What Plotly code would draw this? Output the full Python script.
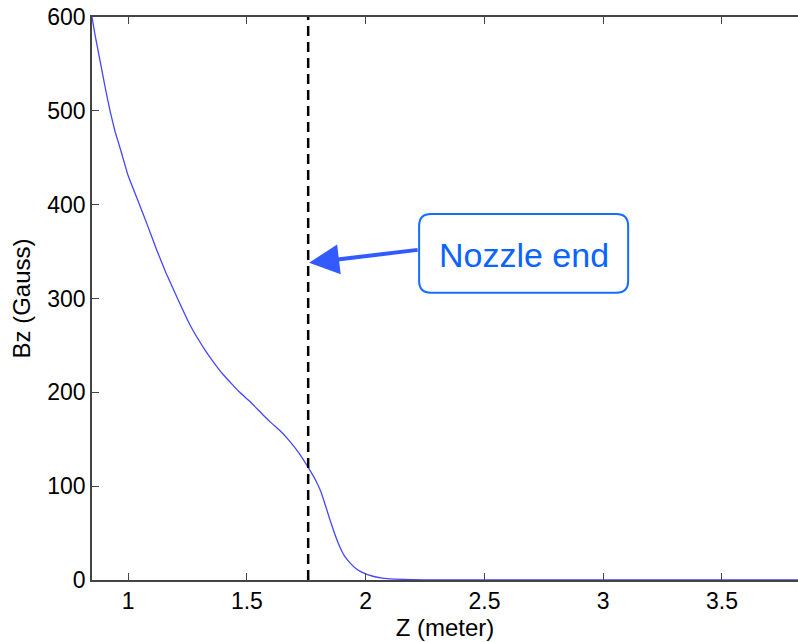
import plotly.graph_objects as go

# Data
z_m = [0.848, 0.86, 0.873, 0.886, 0.905, 0.924, 0.945, 0.969, 1.0, 1.048, 1.08, 1.12, 1.16,
       1.208, 1.26, 1.324, 1.36, 1.40, 1.44, 1.47, 1.514,
       1.56, 1.60, 1.64, 1.68, 1.72, 1.758, 1.79, 1.81, 1.83, 1.85, 1.87, 1.89,
       1.91, 1.935, 1.96, 1.99, 2.03, 2.07, 2.12, 2.2, 2.3, 2.6, 3.0, 3.5, 3.9]
bz_gauss = [600, 582, 565, 548, 523, 500, 478, 458, 431, 400, 379, 352, 327,
            300, 272, 245, 232, 219, 208, 200, 190,
            178, 168, 159, 148, 135, 120, 106, 95, 80, 64, 49, 36,
            26, 18, 12, 7.5, 4, 2, 1, 0.4, 0.1, 0, 0, 0, 0]
nozzle_end_z = 1.758
x_ticks = [1, 1.5, 2, 2.5, 3, 3.5]
y_ticks = [0, 100, 200, 300, 400, 500, 600]
annotation_text = "Nozzle end"

fig = go.Figure()
fig.add_trace(go.Scatter(x=z_m, y=bz_gauss, mode="lines",
                         line=dict(color="rgb(70,70,255)", width=1.3, shape="spline", smoothing=0.3),
                         hoverinfo="skip", showlegend=False))
fig.add_trace(go.Scatter(x=[nozzle_end_z, nozzle_end_z], y=[0, 600], mode="lines",
                         line=dict(color="black", width=2.5, dash="10px,6px"),
                         hoverinfo="skip", showlegend=False))

# Rounded callout box (data coordinates)
x0, x1, y0, y1 = 2.225, 3.105, 306, 390
rx, ry = 0.05, 12.8
path = (f"M {x0+rx},{y1} L {x1-rx},{y1} Q {x1},{y1} {x1},{y1-ry} "
        f"L {x1},{y0+ry} Q {x1},{y0} {x1-rx},{y0} L {x0+rx},{y0} "
        f"Q {x0},{y0} {x0},{y0+ry} L {x0},{y1-ry} Q {x0},{y1} {x0+rx},{y1} Z")
fig.add_shape(type="path", path=path, xref="x", yref="y",
              line=dict(color="rgb(20,110,255)", width=2), fillcolor="white", layer="above")

fig.add_annotation(x=(x0 + x1) / 2, y=(y0 + y1) / 2 - 2, text=annotation_text, showarrow=False,
                   font=dict(family="Liberation Sans, Arial", size=34, color="rgb(10,100,255)"),
                   xanchor="center", yanchor="middle")
# Arrow pointing at nozzle end
fig.add_annotation(x=nozzle_end_z + 0.004, y=338, ax=x0, ay=352, axref="x", ayref="y",
                   xref="x", yref="y", text="", showarrow=True,
                   arrowhead=2, arrowsize=1.5, arrowwidth=4, arrowcolor="rgb(50,90,255)")

axis_font = dict(family="Liberation Sans, Arial, Helvetica", size=23, color="black")
fig.update_layout(
    width=798, height=642,
    margin=dict(l=92, r=0, t=17, b=62),
    paper_bgcolor="white", plot_bgcolor="white",
    font=axis_font,
    xaxis=dict(range=[0.848, 3.82], tickvals=x_ticks, ticktext=[str(v) for v in x_ticks],
               ticks="inside", ticklen=7, tickcolor="#444", showgrid=False, zeroline=False,
               showline=True, linecolor="#444", linewidth=1.5, mirror="ticks",
               tickfont=axis_font,
               title=dict(text="Z (meter)", font=dict(family="Liberation Sans, Arial", size=24), standoff=2)),
    yaxis=dict(range=[0, 600], tickvals=y_ticks, ticks="inside", ticklen=7, tickcolor="#444",
               showgrid=False, zeroline=False, showline=True, linecolor="#444", linewidth=1.5,
               tickfont=axis_font,
               title=dict(text="Bz (Gauss)", font=dict(family="Liberation Sans, Arial", size=24), standoff=10)),
)

fig.write_html("out.html")
